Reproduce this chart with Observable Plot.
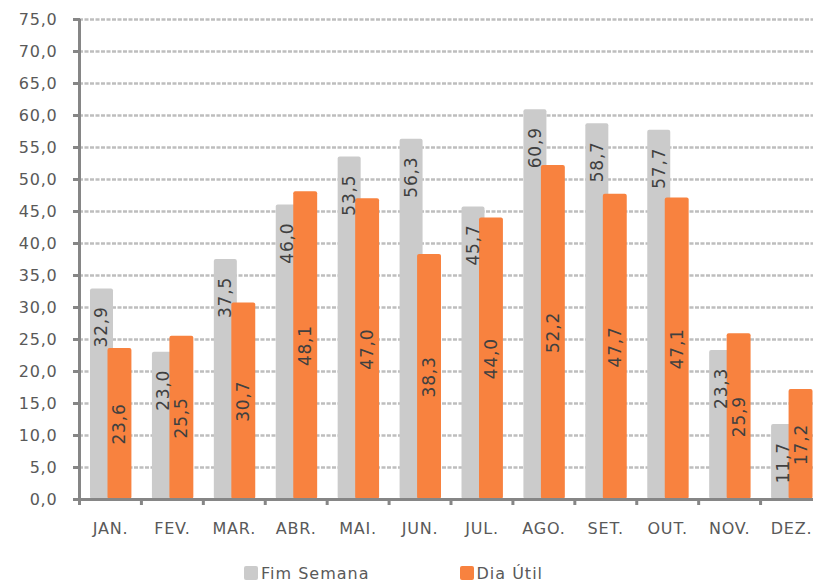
<!DOCTYPE html>
<html>
<head>
<meta charset="utf-8">
<script src="https://cdn.jsdelivr.net/npm/d3@7"></script>
<script src="https://cdn.jsdelivr.net/npm/@observablehq/plot@0.6"></script>
<style>
  html, body { margin: 0; padding: 0; background: #fff; overflow: hidden; width: 813px; height: 584px; }
  #chart { width: 813px; overflow: hidden; }
  #chart svg { max-width: none !important; display: block; }
  #chart svg text { letter-spacing: 0.8px; }
  .legend { display: flex; align-items: center; height: 20px; margin-top: 3px; padding-left: 244px;
            font-family: "DejaVu Sans", Verdana, sans-serif; font-size: 16px; letter-spacing: 1px; color: #595959; }
  .legend .item { display: flex; align-items: center; }
  .legend .sw { width: 14px; height: 14px; border-radius: 2px; margin-right: 3px; }
</style>
</head>
<body>
<div id="chart"></div>
<div class="legend" id="legend"></div>
<script>
const months = ["JAN.", "FEV.", "MAR.", "ABR.", "MAI.", "JUN.", "JUL.", "AGO.", "SET.", "OUT.", "NOV.", "DEZ."];
const fimSemana = [32.9, 23.0, 37.5, 46.0, 53.5, 56.3, 45.7, 60.9, 58.7, 57.7, 23.3, 11.7];
const diaUtil = [23.6, 25.5, 30.7, 48.1, 47.0, 38.3, 44.0, 52.2, 47.7, 47.1, 25.9, 17.2];
const yTicks = [0, 5, 10, 15, 20, 25, 30, 35, 40, 45, 50, 55, 60, 65, 70, 75];
const seriesNames = ["Fim Semana", "Dia Útil"];
const seriesColors = ["#CBCBCB", "#F8823F"];

const fmt = d => d.toFixed(1).replace(".", ",");
const gray = months.map((m, i) => ({month: m, value: fimSemana[i]}));
const orange = months.map((m, i) => ({month: m, value: diaUtil[i]}));

const W = 822, H = 560, ML = 79, MR = 0, MT = 19, MB = 61;
const bw = (W - ML - MR) / months.length;
const frameW = W - ML - MR, frameH = H - MT - MB;
const axisColor = "#868686";
const font = "DejaVu Sans, Verdana, sans-serif";

const chart = Plot.plot({
  width: W, height: H,
  marginLeft: ML, marginRight: MR, marginTop: MT, marginBottom: MB,
  style: {fontFamily: font, fontSize: "16px", background: "#fff", maxWidth: "none"},
  x: {domain: months, padding: 0, round: false, axis: null},
  y: {domain: [0, 75], axis: null},
  marks: [
    Plot.ruleY(yTicks.filter(d => d > 0), {stroke: "#BEBEBE", strokeWidth: 2.5, strokeDasharray: "4,1.5"}),
    Plot.barY(gray, {x: "month", y: "value", fill: seriesColors[0], insetLeft: 11, insetRight: bw - 34, rx: 2}),
    Plot.barY(orange, {x: "month", y: "value", fill: seriesColors[1], insetLeft: 28.5, insetRight: 9.5, rx: 2}),
    // x axis line
    Plot.ruleY([0], {stroke: axisColor, strokeWidth: 3}),
    // category boundary ticks
    Plot.ruleX(months, {x: d => d, dx: -bw / 2, stroke: axisColor, strokeWidth: 3, insetTop: frameH, insetBottom: -6}),
    // y axis line
    Plot.ruleX([months[0]], {x: d => d, dx: -bw / 2, stroke: axisColor, strokeWidth: 3, insetBottom: -6}),
    // y tick marks
    Plot.tickY(yTicks, {y: d => d, dx: -6, insetRight: frameW - 7, stroke: axisColor, strokeWidth: 3}),
    // y tick labels
    Plot.text(yTicks, {y: d => d, text: fmt, frameAnchor: "left", textAnchor: "end", dx: -22, fill: "#595959", fontSize: 16}),
    // x tick labels
    Plot.text(months, {x: d => d, text: d => d, frameAnchor: "bottom", dy: 34, fill: "#595959", fontSize: 16}),
    // data labels
    Plot.text(gray, {x: "month", y: "value", text: d => fmt(d.value), rotate: -90, dx: 22.5 - bw / 2, dy: 38, textAnchor: "middle", fill: "#404040", fontSize: 17}),
    Plot.text(orange, {x: "month", y: d => d.value / 2, text: d => fmt(d.value), rotate: -90, dx: 40.5 - bw / 2, textAnchor: "middle", fill: "#404040", fontSize: 17})
  ]
});
document.getElementById("chart").appendChild(chart);

const legend = document.getElementById("legend");
seriesNames.forEach((name, i) => {
  const item = document.createElement("div");
  item.className = "item";
  if (i > 0) item.style.marginLeft = "90px";
  const sw = document.createElement("div");
  sw.className = "sw";
  sw.style.background = seriesColors[i];
  const t = document.createElement("span");
  t.textContent = name;
  item.appendChild(sw);
  item.appendChild(t);
  legend.appendChild(item);
});
</script>
</body>
</html>
